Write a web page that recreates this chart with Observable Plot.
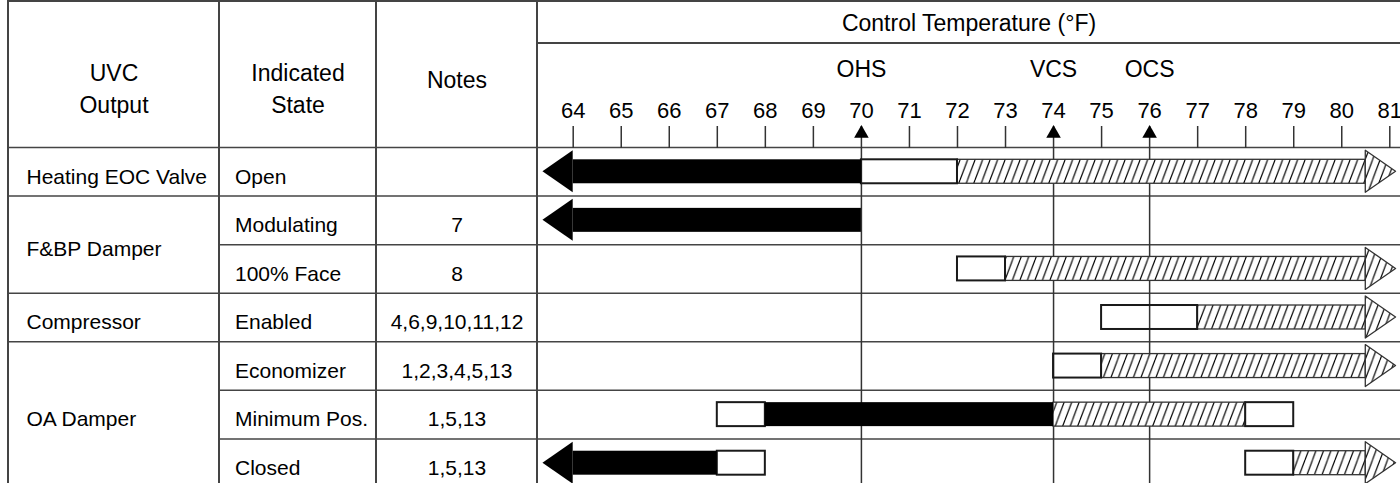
<!DOCTYPE html>
<html>
<head>
<meta charset="utf-8">
<script src="https://cdn.jsdelivr.net/npm/d3@7"></script>
<script src="https://cdn.jsdelivr.net/npm/@observablehq/plot@0.6"></script>
<style>
  html, body { margin: 0; padding: 0; background: #fff; overflow: hidden; }
  #wrap { position: relative; width: 1400px; height: 483px; }
  #wrap svg { position: absolute; left: 0; top: 0; z-index: 1; }
  .ln { position: absolute; background: #444; z-index: 2; }
</style>
</head>
<body>
<div id="wrap"></div>
<script>
// ---------------- data ----------------
const outputs = ["Heating EOC Valve", "F&BP Damper", "Compressor", "OA Damper"];
const outputSpans = [1, 2, 1, 3];
const states = ["Open", "Modulating", "100% Face", "Enabled", "Economizer", "Minimum Pos.", "Closed"];
const notes = ["", "7", "8", "4,6,9,10,11,12", "1,2,3,4,5,13", "1,5,13", "1,5,13"];
const headers = ["UVC\nOutput", "Indicated\nState", "Notes"];
const axisTitle = "Control Temperature (°F)";
const tempTicks = [64, 65, 66, 67, 68, 69, 70, 71, 72, 73, 74, 75, 76, 77, 78, 79, 80, 81];
const setpointNames = ["OHS", "VCS", "OCS"];
const setpointTemps = [70, 74, 76];

const segRow   = [0, 0, 0,     1,  2, 2,     3, 3,     4, 4,     5, 5, 5, 5,      6, 6, 6, 6];
const segStart = [64, 70, 72,  64, 72, 73,   75, 77,   74, 75,   67, 68, 74, 78,  64, 67, 78, 79];
const segEnd   = [70, 72, 80.5, 70, 73, 80.5, 77, 80.5, 75, 80.5, 68, 74, 78, 79,  67, 68, 79, 80.5];
const segKind  = ["on", "off", "hatch", "on", "off", "hatch", "off", "hatch", "off", "hatch",
                  "off", "on", "hatch", "off", "on", "off", "off", "hatch"];
const leftArrowRows = [0, 1, 6];
const rightArrowRows = [0, 2, 3, 4, 6];

// ---------------- layout / style ----------------
const W = 1400, H = 483;
const colX = [8, 219, 376, 537];
const titleLineY = 43, headTop = 147, rowH = 48.57;
const xRange = [572.7, 1389.3];
const barInset = 12.3;     // px
const headHalf = 21;       // px
const headLen = 0.63;      // degrees
const font = "'Liberation Sans', Arial, Helvetica, sans-serif";
const lineColor = "#444";

const nRows = states.length;
const segs = segRow.map((r, i) => ({row: r, x1: segStart[i], x2: segEnd[i], kind: segKind[i]}));
const hh = headHalf / rowH;
const heads = [];
leftArrowRows.forEach((r, k) => {
  const base = d3.min(segs.filter(s => s.row === r), s => s.x1);
  heads.push({id: "L" + k, side: "left", x: base - headLen, y1: r + 0.5, y2: r + 0.5});
  heads.push({id: "L" + k, side: "left", x: base, y1: r + 0.5 - hh, y2: r + 0.5 + hh});
});
rightArrowRows.forEach((r, k) => {
  const base = d3.max(segs.filter(s => s.row === r), s => s.x2);
  heads.push({id: "R" + k, side: "right", x: base, y1: r + 0.5 - hh, y2: r + 0.5 + hh});
  heads.push({id: "R" + k, side: "right", x: base + headLen, y1: r + 0.5, y2: r + 0.5});
});

const groupStart = outputSpans.map((s, i) => d3.sum(outputSpans.slice(0, i)));
const fullLines = groupStart.slice();               // group boundaries
const partLines = d3.range(1, nRows).filter(i => !fullLines.includes(i));

const frameL = colX[3];
const hdrX = [(colX[0] + colX[1]) / 2, (colX[1] + colX[2]) / 2, (colX[2] + colX[3]) / 2];
const hdrY = [86, 86, 77];

const textMarks = headers.map((h, i) =>
  Plot.text([h], {text: d => d, frameAnchor: "top-left", dx: hdrX[i] - frameL, dy: hdrY[i] - headTop,
    textAnchor: "middle", lineAnchor: "middle", lineHeight: 1.43, fontSize: 23, fill: "black"}));

const plot = Plot.plot({
  width: W, height: H,
  marginTop: headTop, marginLeft: frameL, marginRight: 0, marginBottom: 0,
  x: {domain: [tempTicks[0], tempTicks[tempTicks.length - 1]], range: xRange},
  y: {domain: [0, nRows], range: [headTop, headTop + nRows * rowH], axis: null},
  style: {fontFamily: font, background: "white", color: "black", overflow: "visible"},
  marks: [
    Plot.ruleY(fullLines, {stroke: lineColor, strokeWidth: 1.5, insetLeft: colX[0] - frameL}),
    Plot.ruleY(partLines, {stroke: lineColor, strokeWidth: 1.5, insetLeft: colX[1] - frameL}),
    Plot.rect(segs.filter(s => s.kind === "off"), {x1: "x1", x2: "x2", y1: "row", y2: d => d.row + 1,
      insetTop: barInset, insetBottom: barInset, fill: "white"}),
    Plot.ruleX(setpointTemps, {y1: 0, y2: nRows, stroke: "#333", strokeWidth: 1.5}),
    Plot.rect(segs.filter(s => s.kind === "hatch"), {x1: "x1", x2: "x2", y1: "row", y2: d => d.row + 1,
      insetTop: barInset, insetBottom: barInset, fill: "url(#hatch)", stroke: "#333", strokeWidth: 1.3}),
    Plot.areaY(heads.filter(h => h.side === "right"), {x: "x", y1: "y1", y2: "y2", z: "id",
      fill: "url(#hatch)", stroke: "#333", strokeWidth: 1.3}),
    Plot.rect(segs.filter(s => s.kind === "off"), {x1: "x1", x2: "x2", y1: "row", y2: d => d.row + 1,
      insetTop: barInset, insetBottom: barInset, fill: "none", stroke: "#1a1a1a", strokeWidth: 2}),
    Plot.rect(segs.filter(s => s.kind === "on"), {x1: "x1", x2: "x2", y1: "row", y2: d => d.row + 1,
      insetTop: barInset, insetBottom: barInset, fill: "black"}),
    Plot.areaY(heads.filter(h => h.side === "left"), {x: "x", y1: "y1", y2: "y2", z: "id", fill: "black"}),
    Plot.axisX({anchor: "top", ticks: tempTicks, tickSize: 22, tickPadding: 8, fontSize: 22,
      label: null, stroke: "#333", strokeWidth: 1.5, fill: "black", tickFormat: d => String(d)}),
    Plot.dot(setpointTemps, {x: d => d, frameAnchor: "top", dy: -14, symbol: "triangle", r: 5.4,
      fill: "black", stroke: "none"}),
    Plot.text(setpointTemps, {x: d => d, text: (d, i) => setpointNames[i], frameAnchor: "top", dy: -78,
      lineAnchor: "middle", textAnchor: "middle", fontSize: 23, fill: "black"}),
    Plot.text([axisTitle], {text: d => d, frameAnchor: "top", dy: -124, lineAnchor: "middle",
      textAnchor: "middle", fontSize: 23, fill: "black"}),
    ...textMarks,
    Plot.text(outputs, {y: (d, i) => groupStart[i] + outputSpans[i] / 2, text: d => d, frameAnchor: "left",
      dx: 26 - frameL, dy: 5, textAnchor: "start", lineAnchor: "middle", fontSize: 21, fill: "black"}),
    Plot.text(states, {y: (d, i) => i + 0.5, text: d => d, frameAnchor: "left",
      dx: 234.5 - frameL, dy: 5, textAnchor: "start", lineAnchor: "middle", fontSize: 21, fill: "black"}),
    Plot.text(notes, {y: (d, i) => i + 0.5, text: d => d, frameAnchor: "left",
      dx: hdrX[2] - frameL, dy: 5, textAnchor: "middle", lineAnchor: "middle", fontSize: 21, fill: "black"})
  ]
});

// hatch pattern
const NS = "http://www.w3.org/2000/svg";
const defs = document.createElementNS(NS, "defs");
const pat = document.createElementNS(NS, "pattern");
pat.setAttribute("id", "hatch");
pat.setAttribute("patternUnits", "userSpaceOnUse");
pat.setAttribute("width", "7.5");
pat.setAttribute("height", "20");
const bg = document.createElementNS(NS, "rect");
bg.setAttribute("width", "7.5"); bg.setAttribute("height", "20"); bg.setAttribute("fill", "white");
const p = document.createElementNS(NS, "path");
p.setAttribute("d", "M-7.5,20L0,0M0,20L7.5,0M7.5,20L15,0");
p.setAttribute("stroke", "#000"); p.setAttribute("stroke-width", "1.15");
pat.appendChild(bg); pat.appendChild(p); defs.appendChild(pat);
plot.insertBefore(defs, plot.firstChild);

const wrap = document.getElementById("wrap");
wrap.appendChild(plot);

// table frame lines in the header / left columns
function line(x, y, w, h) {
  const d = document.createElement("div");
  d.className = "ln";
  Object.assign(d.style, {left: x + "px", top: y + "px", width: w + "px", height: h + "px"});
  wrap.appendChild(d);
}
colX.forEach(x => line(x - 0.75, 0, 1.5, H));
line(colX[0], 0, W - colX[0], 1.5);
line(colX[3], titleLineY - 0.75, W - colX[3], 1.5);
</script>
</body>
</html>
